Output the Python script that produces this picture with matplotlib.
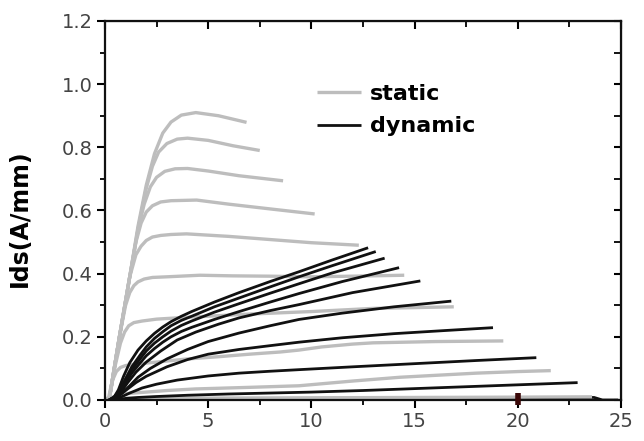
import matplotlib
matplotlib.use("Agg")
import matplotlib.pyplot as plt
from matplotlib.ticker import MultipleLocator, FormatStrFormatter

# Vds (V) / Ids (A/mm) output curves, static sweep (gray)
static_x = [
    [0.2, 0.7, 1.2, 1.6, 2.0, 2.4, 2.8, 3.2, 3.7, 4.4, 5.5, 6.86],
    [0.2, 0.7, 1.2, 1.6, 2.0, 2.3, 2.6, 3.0, 3.5, 4.0, 5.0, 6.2, 7.5],
    [0.2, 0.7, 1.2, 1.6, 1.9, 2.2, 2.5, 2.9, 3.4, 4.0, 5.0, 6.5, 8.63],
    [0.2, 0.7, 1.2, 1.5, 1.75, 2.0, 2.3, 2.7, 3.2, 4.44, 6.0, 8.0, 10.16],
    [0.2, 0.7, 1.2, 1.5, 1.75, 2.0, 2.3, 2.7, 3.2, 3.95, 6.0, 8.0, 10.0, 12.3],
    [0.2, 0.7, 1.0, 1.2, 1.4, 1.6, 1.9, 2.3, 3.0, 4.6, 6.2, 8.0, 9.9, 12.0, 14.5],
    [0.2, 0.5, 0.75, 0.95, 1.15, 1.4, 1.8, 2.5, 4.0, 7.0, 10.0, 13.0, 16.9],
    [0.15, 0.35, 0.55, 0.75, 1.0, 1.4, 2.5, 4.0, 5.5, 7.0, 8.5, 9.4, 10.5, 12.0, 13.0, 16.0, 19.3],
    [0.1, 0.4, 1.0, 2.0, 3.0, 4.4, 7.0, 9.4, 12.0, 14.3, 16.0, 18.0, 20.0, 21.6],
    [0.0, 5.0, 10.0, 15.0, 20.0, 23.6],
]
static_y = [
    [0.0, 0.2, 0.39, 0.55, 0.68, 0.78, 0.845, 0.88, 0.902, 0.91, 0.9, 0.879],
    [0.0, 0.2, 0.39, 0.54, 0.67, 0.74, 0.785, 0.812, 0.826, 0.829, 0.822, 0.805, 0.79],
    [0.0, 0.2, 0.39, 0.54, 0.62, 0.675, 0.705, 0.724, 0.732, 0.733, 0.725, 0.71, 0.694],
    [0.0, 0.2, 0.39, 0.5, 0.56, 0.595, 0.615, 0.627, 0.631, 0.633, 0.62, 0.605, 0.589],
    [0.0, 0.2, 0.39, 0.46, 0.487, 0.505, 0.516, 0.521, 0.524, 0.526, 0.518, 0.508, 0.498, 0.49],
    [0.0, 0.2, 0.3, 0.34, 0.362, 0.374, 0.383, 0.388, 0.39, 0.395, 0.393, 0.392, 0.39, 0.392, 0.395],
    [0.0, 0.11, 0.18, 0.215, 0.235, 0.245, 0.25, 0.256, 0.262, 0.272, 0.28, 0.29, 0.295],
    [0.0, 0.06, 0.09, 0.103, 0.109, 0.113, 0.12, 0.13, 0.137, 0.145, 0.152, 0.158, 0.168, 0.177, 0.181, 0.185, 0.187],
    [0.0, 0.01, 0.02, 0.025, 0.03, 0.035, 0.04, 0.045, 0.06, 0.072, 0.078, 0.085, 0.09, 0.093],
    [0.005, 0.006, 0.007, 0.008, 0.009, 0.01],
]

# pulsed (dynamic) sweep (black)
dynamic_x = [
    [0.2, 0.45, 0.65, 0.9, 1.2, 1.6, 2.0, 2.4, 2.8, 3.2, 3.7, 4.2, 5.3, 6.5, 8.0, 9.4, 11.0, 12.75],
    [0.2, 0.45, 0.7, 1.0, 1.3, 1.7, 2.0, 2.4, 2.8, 3.2, 3.7, 4.2, 5.3, 6.5, 8.0, 9.4, 11.0, 13.12],
    [0.2, 0.45, 0.7, 1.0, 1.3, 1.7, 2.0, 2.4, 2.8, 3.2, 3.7, 4.2, 5.3, 6.5, 8.0, 9.4, 11.0, 13.55],
    [0.2, 0.45, 0.7, 1.0, 1.3, 1.7, 2.0, 2.4, 2.8, 3.2, 3.7, 4.2, 5.3, 6.5, 8.0, 9.4, 11.5, 14.25],
    [0.2, 0.5, 0.8, 1.1, 1.5, 2.0, 2.7, 3.5, 4.4, 5.5, 6.5, 8.0, 9.4, 12.0, 15.28],
    [0.2, 0.5, 0.8, 1.2, 1.6, 2.2, 3.0, 4.0, 5.0, 6.5, 8.0, 9.4, 11.5, 14.0, 16.78],
    [0.3, 0.6, 1.0, 1.5, 2.0, 3.0, 4.0, 5.0, 6.5, 8.0, 9.4, 11.5, 14.0, 16.5, 18.8],
    [0.4, 0.8, 1.2, 1.8, 2.5, 3.5, 5.0, 6.5, 8.0, 9.4, 12.0, 15.0, 18.0, 20.9],
    [0.5, 1.0, 1.6, 2.5, 4.0, 6.0, 8.0, 10.0, 12.5, 15.0, 17.5, 20.0, 22.9],
]
dynamic_y = [
    [0.0, 0.01, 0.032, 0.075, 0.118, 0.158, 0.187, 0.211, 0.231, 0.248, 0.265, 0.28, 0.31, 0.34, 0.375, 0.406, 0.443, 0.482],
    [0.0, 0.01, 0.03, 0.068, 0.105, 0.142, 0.168, 0.195, 0.216, 0.235, 0.252, 0.265, 0.295, 0.323, 0.358, 0.39, 0.425, 0.47],
    [0.0, 0.008, 0.027, 0.062, 0.095, 0.13, 0.155, 0.18, 0.2, 0.218, 0.236, 0.25, 0.278, 0.305, 0.338, 0.368, 0.402, 0.449],
    [0.0, 0.007, 0.024, 0.055, 0.085, 0.117, 0.14, 0.163, 0.183, 0.2, 0.217, 0.23, 0.255, 0.28, 0.31, 0.337, 0.375, 0.419],
    [0.0, 0.007, 0.027, 0.055, 0.088, 0.12, 0.155, 0.19, 0.215, 0.24, 0.26, 0.283, 0.302, 0.34, 0.377],
    [0.0, 0.005, 0.02, 0.045, 0.072, 0.1, 0.13, 0.16, 0.185, 0.212, 0.235, 0.255, 0.275, 0.295, 0.313],
    [0.0, 0.01, 0.03, 0.055, 0.075, 0.105, 0.128, 0.145, 0.16, 0.172, 0.183, 0.197, 0.21, 0.22, 0.229],
    [0.0, 0.01, 0.022, 0.038, 0.05, 0.063, 0.076, 0.085, 0.091, 0.096, 0.105, 0.115, 0.125, 0.134],
    [0.0, 0.005, 0.008, 0.011, 0.015, 0.019, 0.022, 0.025, 0.03, 0.036, 0.042, 0.048, 0.055],
]
# pinched-off dynamic curve, mostly hidden under the gray one
dyn_off_x = [0.5, 23.7, 24.1, 24.8]
dyn_off_y = [0.003, 0.008, 0.0, 0.0]

# cursor mark on the Vds axis
cursor_x = 20.0
cursor_y = [-0.016, 0.021]

GRAY = "#bdbdbd"
BLACK = "#111111"
TICK_COLOR = "#444444"

fig = plt.figure(figsize=(6.44, 4.41), dpi=100)
ax = fig.add_axes([0.163, 0.093, 0.8012, 0.8594])

ax.plot(dyn_off_x, dyn_off_y, color=BLACK, lw=2.0, zorder=1)

for i, (xs, ys) in enumerate(zip(static_x, static_y)):
    ax.plot(xs, ys, color=GRAY, lw=2.4, solid_capstyle="butt",
            solid_joinstyle="round", label="static" if i == 0 else None,
            zorder=2)

for i, (xs, ys) in enumerate(zip(dynamic_x, dynamic_y)):
    ax.plot(xs, ys, color=BLACK, lw=2.0, solid_capstyle="butt",
            solid_joinstyle="round", label="dynamic" if i == 0 else None,
            zorder=3)

ax.vlines(cursor_x, cursor_y[0], cursor_y[1], color="#3a0808", lw=4, zorder=5,
          clip_on=False)

ax.set_xlim(0, 25)
ax.set_ylim(0, 1.2)

ax.xaxis.set_major_locator(MultipleLocator(5))
ax.xaxis.set_minor_locator(MultipleLocator(2.5))
ax.yaxis.set_major_locator(MultipleLocator(0.2))
ax.yaxis.set_minor_locator(MultipleLocator(0.1))
ax.yaxis.set_major_formatter(FormatStrFormatter("%.1f"))

for s in ax.spines.values():
    s.set_linewidth(1.6)
    s.set_color("#111111")

ax.tick_params(which="major", direction="out", length=6, width=1.5,
               labelsize=14, labelcolor=TICK_COLOR, pad=3)
ax.tick_params(which="minor", direction="out", length=3.5, width=1.3)

# top and right: inward ticks, no labels
top = ax.secondary_xaxis("top")
top.xaxis.set_major_locator(MultipleLocator(5))
top.xaxis.set_minor_locator(MultipleLocator(2.5))
top.tick_params(which="major", direction="in", length=6, width=1.5, labeltop=False)
top.tick_params(which="minor", direction="in", length=4, width=1.3)
right = ax.secondary_yaxis("right")
right.yaxis.set_major_locator(MultipleLocator(0.2))
right.yaxis.set_minor_locator(MultipleLocator(0.1))
right.tick_params(which="major", direction="in", length=5, width=1.5, labelright=False)
right.tick_params(which="minor", direction="in", length=5, width=1.3)

ax.set_ylabel("Ids(A/mm)", fontsize=17, fontweight="bold", family="DejaVu Sans")
ax.yaxis.set_label_coords(-0.142, 0.48)

ax.legend(loc="upper left", bbox_to_anchor=(0.411, 0.834), frameon=False,
          prop={"family": "DejaVu Sans", "weight": "bold", "size": 16},
          handlelength=2.0, handletextpad=0.4, labelspacing=0.56,
          borderpad=0, borderaxespad=0)

fig.savefig("out.png", dpi=100)
